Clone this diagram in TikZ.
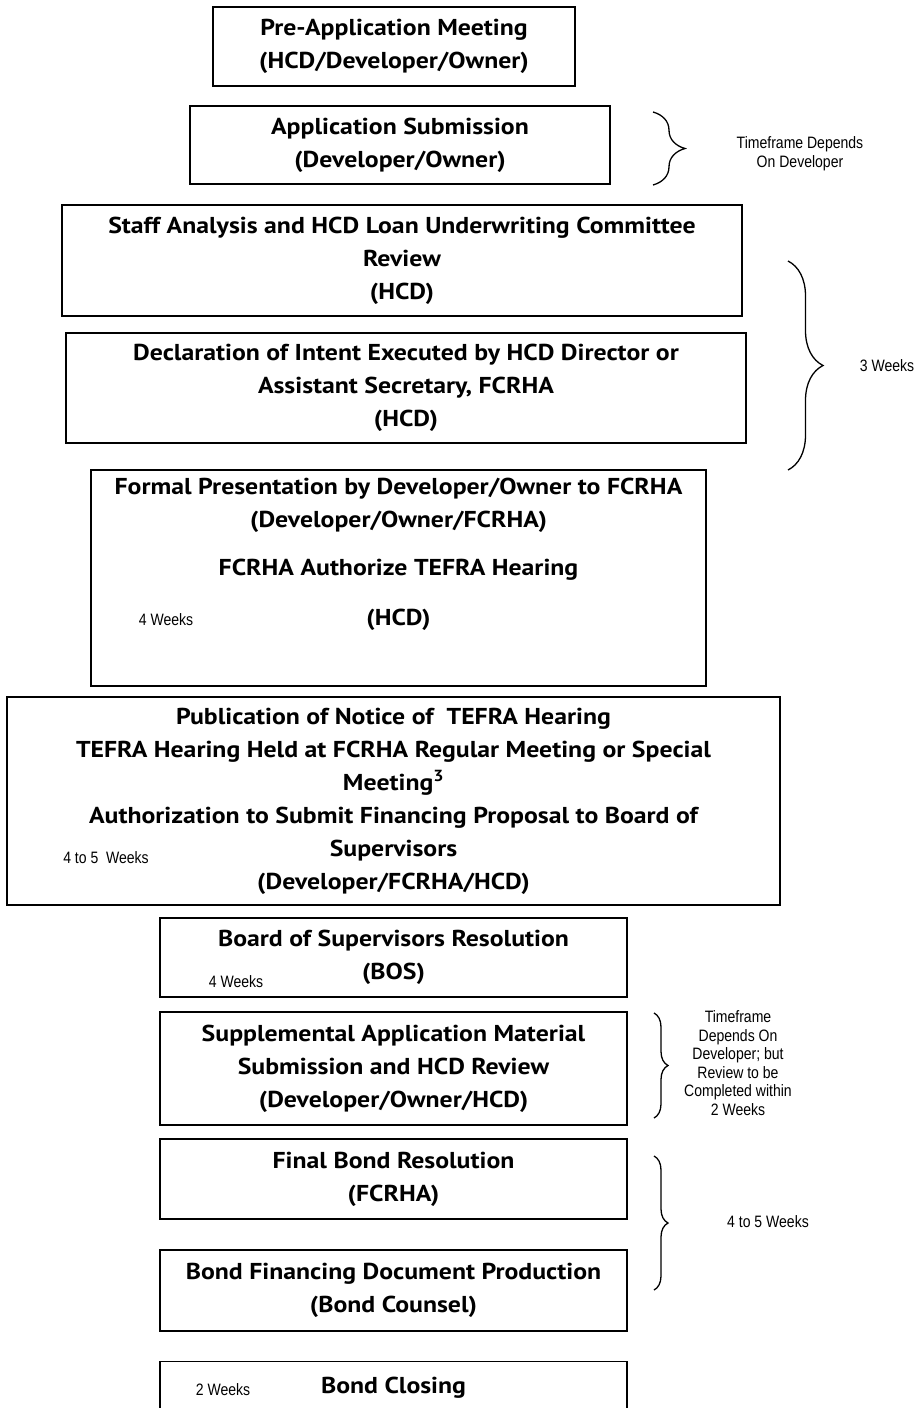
\documentclass[tikz,border=0pt]{standalone}
\usepackage{fontspec}
\newfontfamily\stagefont{PT Sans}[FakeStretch=1.12]
\newfontfamily\notefont{Liberation Sans}[FakeStretch=0.85]
\usetikzlibrary{decorations.pathreplacing}

\begin{document}
\begin{tikzpicture}[x=1pt, y=-1pt,
	stage/.style={draw, line width=1.4pt, align=center, inner sep=0pt,
		font=\stagefont\bfseries\fontsize{23}{33}\selectfont},
	note/.style={align=center, inner sep=0pt,
		font=\notefont\fontsize{16.5}{18.6}\selectfont},
	timebrace/.style={decorate, decoration={brace, amplitude=#1}, line width=1.3pt}]
	\useasboundingbox (0,0) rectangle (919,1408);
	\clip (0,0) rectangle (919,1408);
	% Stages:
	\node[stage, minimum width=362, minimum height=79] (pre) at (394,46.5)
		{Pre-Application Meeting\\(HCD/Developer/Owner)};
	\node[stage, minimum width=420, minimum height=78] (appsub) at (400,145)
		{Application Submission\\(Developer/Owner)};
	\node[stage, minimum width=680, minimum height=111] (staff) at (402,260.5)
		{Staff Analysis and HCD Loan Underwriting Committee\\Review\\(HCD)};
	\node[stage, minimum width=680, minimum height=110] (decl) at (406,388)
		{Declaration of Intent Executed by HCD Director or\\Assistant Secretary, FCRHA\\(HCD)};
	\node[stage, minimum width=615, minimum height=216] (formal) at (398.5,578)
		{Formal Presentation by Developer/Owner to FCRHA\\(Developer/Owner/FCRHA)\\[15pt]
		FCRHA Authorize TEFRA Hearing\\[17pt](HCD)\\[19pt]\mbox{}};
	\node[stage, minimum width=773, minimum height=208] (publ) at (393.5,801)
		{Publication of Notice of~ TEFRA Hearing\\TEFRA Hearing Held at FCRHA Regular Meeting or Special\\
		Meeting\textsuperscript{3}\\Authorization to Submit Financing Proposal to Board of\\Supervisors\\(Developer/FCRHA/HCD)};
	\node[stage, minimum width=467, minimum height=79] (bos) at (393.5,957.5)
		{Board of Supervisors Resolution\\(BOS)};
	\node[stage, minimum width=467, minimum height=113] (supp) at (393.5,1068.5)
		{Supplemental Application Material\\Submission and HCD Review\\(Developer/Owner/HCD)};
	\node[stage, minimum width=467, minimum height=80] (final) at (393.5,1179)
		{Final Bond Resolution\\(FCRHA)};
	\node[stage, minimum width=467, minimum height=81] (docprod) at (393.5,1290.5)
		{Bond Financing Document Production\\(Bond Counsel)};
	\node[stage, minimum width=467, minimum height=52, anchor=north] (closing) at (393.5,1361)
		{Bond Closing};
	% Time notes inside the boxes:
	\node[note] (formalwk) at (166,620) {4 Weeks};
	\node[note] (publwk) at (106,858) {4 to 5~ Weeks};
	\node[note] (boswk) at (236,982) {4 Weeks};
	\node[note] (closingwk) at (223,1390) {2 Weeks};
	% Braces and their notes:
	\draw[timebrace=32pt] (653,112) -- (653,185);
	\node[note] (devnote) at (800,154) {Timeframe Depends\\On Developer};
	\draw[timebrace=35pt] (788,261) -- (788,470);
	\node[note] (threewk) at (887,366) {3 Weeks};
	\draw[timebrace=14pt] (654,1013) -- (654,1118);
	\node[note] (suppnote) at (738,1063)
		{Timeframe\\Depends On\\Developer; but\\Review to be\\Completed within\\2 Weeks};
	\draw[timebrace=14pt] (654,1156) -- (654,1290);
	\node[note] (bondwk) at (768,1222) {4 to 5 Weeks};
\end{tikzpicture}
\end{document}
